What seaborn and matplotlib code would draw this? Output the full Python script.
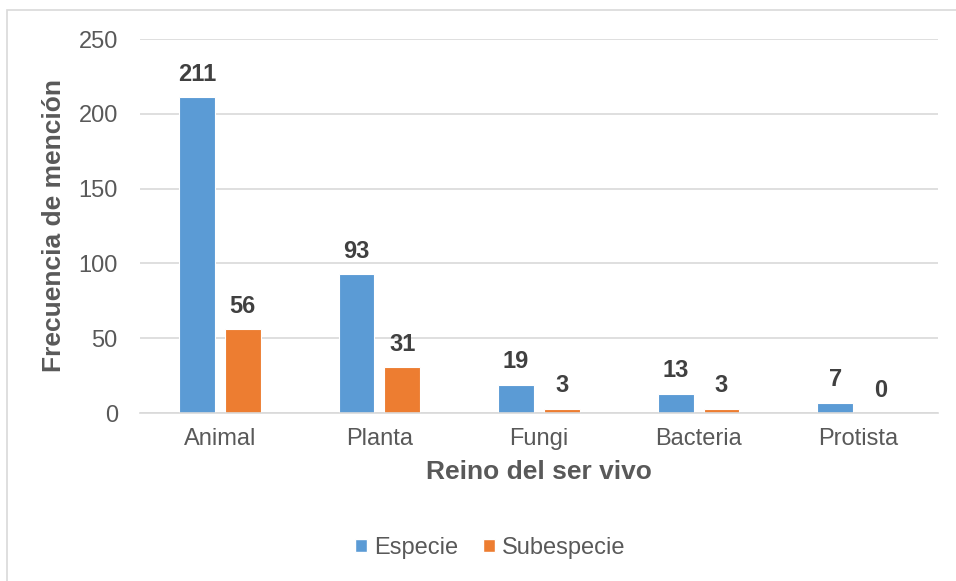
import pandas as pd
import seaborn as sns
import matplotlib.pyplot as plt
from matplotlib.patches import Patch, Rectangle

# datos
reinos = ['Animal', 'Planta', 'Fungi', 'Bacteria', 'Protista']
especie = [211, 93, 19, 13, 7]
subespecie = [56, 31, 3, 3, 0]
series = ['Especie', 'Subespecie']
colores = ['#5B9BD5', '#ED7D31']
yticks = [0, 50, 100, 150, 200, 250]

df = pd.DataFrame({'reino': reinos * 2,
                   'tipo': [series[0]] * len(reinos) + [series[1]] * len(reinos),
                   'frecuencia': especie + subespecie})

sns.set_theme(style='white')
plt.rcParams['font.family'] = ['Liberation Sans', 'DejaVu Sans']

gris = '#595959'
fig = plt.figure(figsize=(9.56, 5.81), dpi=100)
ax = fig.add_axes([140/956, 1-413/581, 798/956, 374/581])

sns.barplot(data=df, x='reino', y='frecuencia', hue='tipo', palette=colores,
            saturation=1, width=0.575, gap=0.22, edgecolor='white', linewidth=0.8,
            legend=False, ax=ax)

for c in ax.containers:
    ax.bar_label(c, fmt='%d', padding=8, fontsize=17, fontweight='bold', color='#404040')

ax.set_ylim(0, 250)
ax.set_yticks(yticks)
ax.yaxis.grid(True, color='#D9D9D9', linewidth=1.2)
ax.set_axisbelow(True)
for s in ['top', 'right', 'left']:
    ax.spines[s].set_visible(False)
ax.spines['bottom'].set_color('#D9D9D9')
ax.spines['bottom'].set_linewidth(1.2)

ax.tick_params(axis='both', length=0, labelsize=17, colors=gris)
ax.tick_params(axis='y', pad=16)
ax.tick_params(axis='x', pad=11)

ax.set_xlabel('Reino del ser vivo', fontsize=19, fontweight='bold', color=gris, labelpad=7)
ax.set_ylabel('Frecuencia de mención', fontsize=19, fontweight='bold', color=gris, labelpad=9)

handles = [Patch(facecolor=c, label=s) for c, s in zip(colores, series)]
fig.legend(handles=handles, loc='center', bbox_to_anchor=(490/956, 33/581), ncol=2,
           frameon=False, fontsize=17, handlelength=0.5, handleheight=0.5,
           handletextpad=0.3, columnspacing=1.05, labelcolor=gris)

# marco del area del grafico
fig.add_artist(Rectangle((7/956, -0.05), 1.0, 1-10/581+0.05, transform=fig.transFigure,
                         fill=False, edgecolor='#D9D9D9', linewidth=1.2, clip_on=False))

fig.savefig('out.png', dpi=100)
